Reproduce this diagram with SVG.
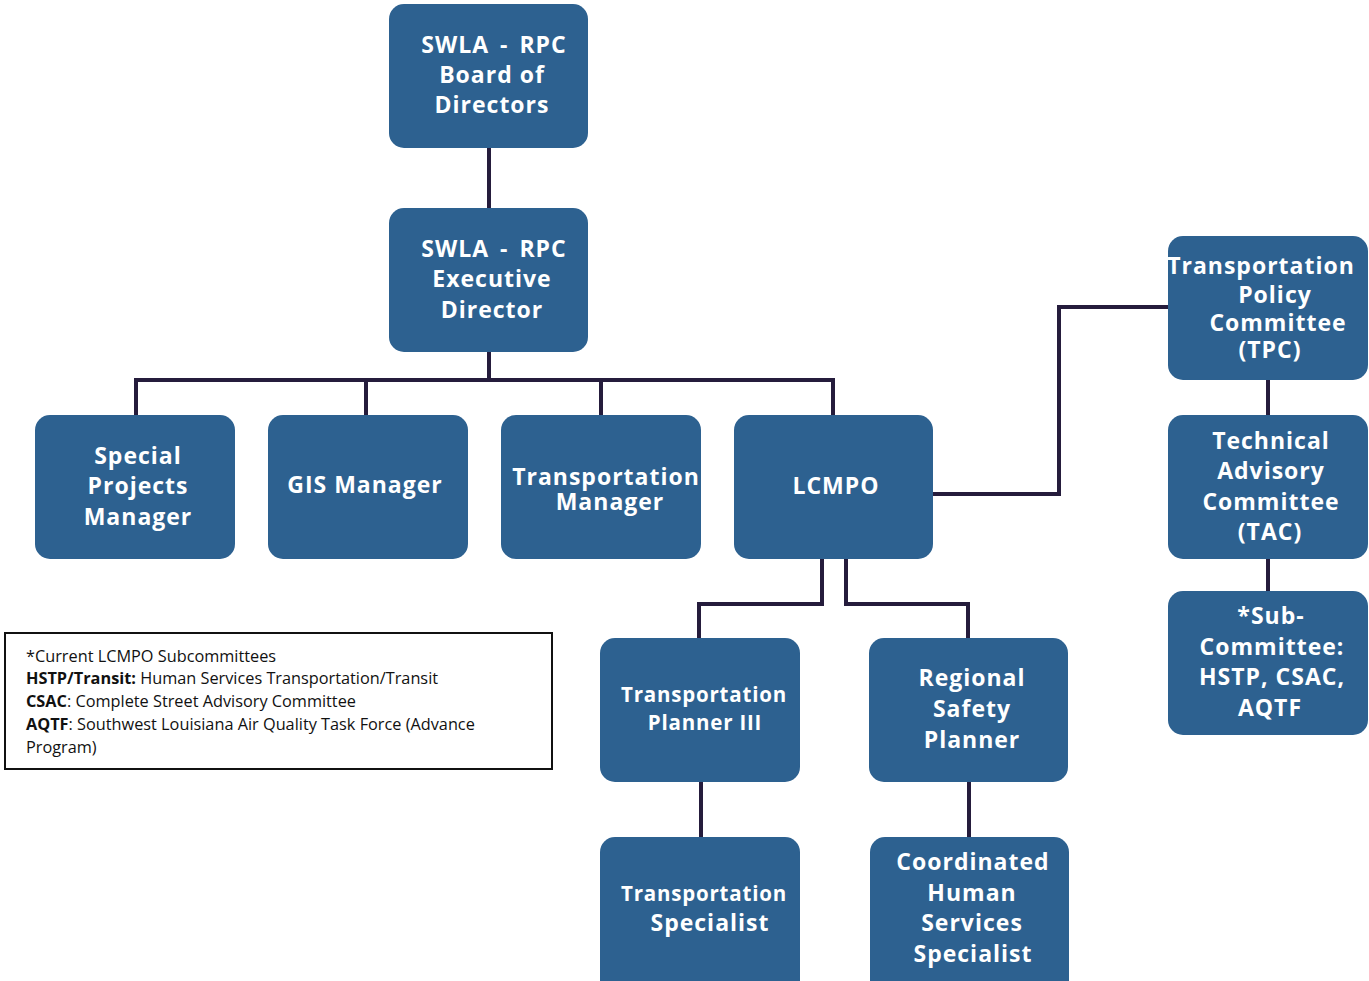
<svg xmlns="http://www.w3.org/2000/svg" width="1369" height="981" viewBox="0 0 1369 981">
<style>
.box{fill:#2d6190;}
.t{font-family:"Open Sans","DejaVu Sans",sans-serif;font-weight:bold;font-size:23px;fill:#ffffff;text-anchor:middle;letter-spacing:1px;}
.s{font-size:20.5px;letter-spacing:0.8px;}
.w{word-spacing:4px;}
.c{fill:none;stroke:#251c3c;stroke-width:4;}
.lg{font-family:"Open Sans","Liberation Sans",sans-serif;font-size:16.3px;fill:#111111;}
</style>
<rect width="1369" height="981" fill="#ffffff"/>
<g id="connectors">
<path class="c" d="M489 148V208"/>
<path class="c" d="M489 352V380"/>
<path class="c" d="M136 415V380H833V415"/>
<path class="c" d="M366 380V415"/>
<path class="c" d="M601 380V415"/>
<path class="c" d="M933 494H1059V307H1168"/>
<path class="c" d="M1268 380V415"/>
<path class="c" d="M1268 559V591"/>
<path class="c" d="M822 559V604H699V638"/>
<path class="c" d="M846 559V604H968V638"/>
<path class="c" d="M701 782V837"/>
<path class="c" d="M969 782V837"/>
</g>
<g id="board"><rect class="box" x="389" y="4" width="199" height="144" rx="15"/>
<text class="t w" x="494" y="53">SWLA - RPC</text><text class="t" x="492" y="83">Board of</text><text class="t" x="492" y="113">Directors</text></g>
<g id="exec"><rect class="box" x="389" y="208" width="199" height="144" rx="15"/>
<text class="t w" x="494" y="257">SWLA - RPC</text><text class="t" x="492" y="287">Executive</text><text class="t" x="492" y="318">Director</text></g>
<g id="special"><rect class="box" x="35" y="415" width="200" height="144" rx="15"/>
<text class="t" x="138" y="464">Special</text><text class="t" x="138" y="494">Projects</text><text class="t" x="138" y="525">Manager</text></g>
<g id="gis"><rect class="box" x="268" y="415" width="200" height="144" rx="15"/>
<text class="t" x="365" y="493">GIS Manager</text></g>
<g id="tm"><rect class="box" x="501" y="415" width="200" height="144" rx="15"/>
<text class="t" x="606" y="485">Transportation</text><text class="t" x="610" y="510">Manager</text></g>
<g id="lcmpo"><rect class="box" x="734" y="415" width="199" height="144" rx="15"/>
<text class="t" x="836" y="494">LCMPO</text></g>
<g id="tpc"><rect class="box" x="1168" y="236" width="200" height="144" rx="15"/>
<text class="t" x="1261" y="274">Transportation</text><text class="t" x="1275" y="303">Policy</text><text class="t" x="1278" y="331">Committee</text><text class="t" x="1270" y="358">(TPC)</text></g>
<g id="tac"><rect class="box" x="1168" y="415" width="200" height="144" rx="15"/>
<text class="t" x="1271" y="449">Technical</text><text class="t" x="1271" y="479">Advisory</text><text class="t" x="1271" y="510">Committee</text><text class="t" x="1270" y="540">(TAC)</text></g>
<g id="sub"><rect class="box" x="1168" y="591" width="200" height="144" rx="15"/>
<text class="t" x="1271" y="624">*Sub-</text><text class="t" x="1272" y="655">Committee:</text><text class="t" x="1272" y="685">HSTP, CSAC,</text><text class="t" x="1270" y="716">AQTF</text></g>
<g id="planner3"><rect class="box" x="600" y="638" width="200" height="144" rx="15"/>
<text class="t s" x="704" y="702">Transportation</text><text class="t s" x="705" y="730">Planner III</text></g>
<g id="safety"><rect class="box" x="869" y="638" width="199" height="144" rx="15"/>
<text class="t" x="972" y="686">Regional</text><text class="t" x="972" y="717">Safety</text><text class="t" x="972" y="748">Planner</text></g>
<g id="specialist"><rect class="box" x="600" y="837" width="200" height="160" rx="15"/>
<text class="t s" x="704" y="901">Transportation</text><text class="t" x="710" y="931">Specialist</text></g>
<g id="coord"><rect class="box" x="870" y="837" width="199" height="160" rx="15"/>
<text class="t" x="973" y="870">Coordinated</text><text class="t" x="972" y="901">Human</text><text class="t" x="972" y="931">Services</text><text class="t" x="973" y="962">Specialist</text></g>
<g id="legend"><rect x="5" y="633" width="547" height="136" fill="#ffffff" stroke="#111111" stroke-width="2"/>
<text class="lg" x="26" y="662">*Current LCMPO Subcommittees</text>
<text class="lg" x="26" y="684"><tspan font-weight="bold">HSTP/Transit:</tspan> Human Services Transportation/Transit</text>
<text class="lg" x="26" y="707"><tspan font-weight="bold">CSAC</tspan>: Complete Street Advisory Committee</text>
<text class="lg" x="26" y="730"><tspan font-weight="bold">AQTF</tspan>: Southwest Louisiana Air Quality Task Force (Advance</text>
<text class="lg" x="26" y="753">Program)</text></g>
</svg>
